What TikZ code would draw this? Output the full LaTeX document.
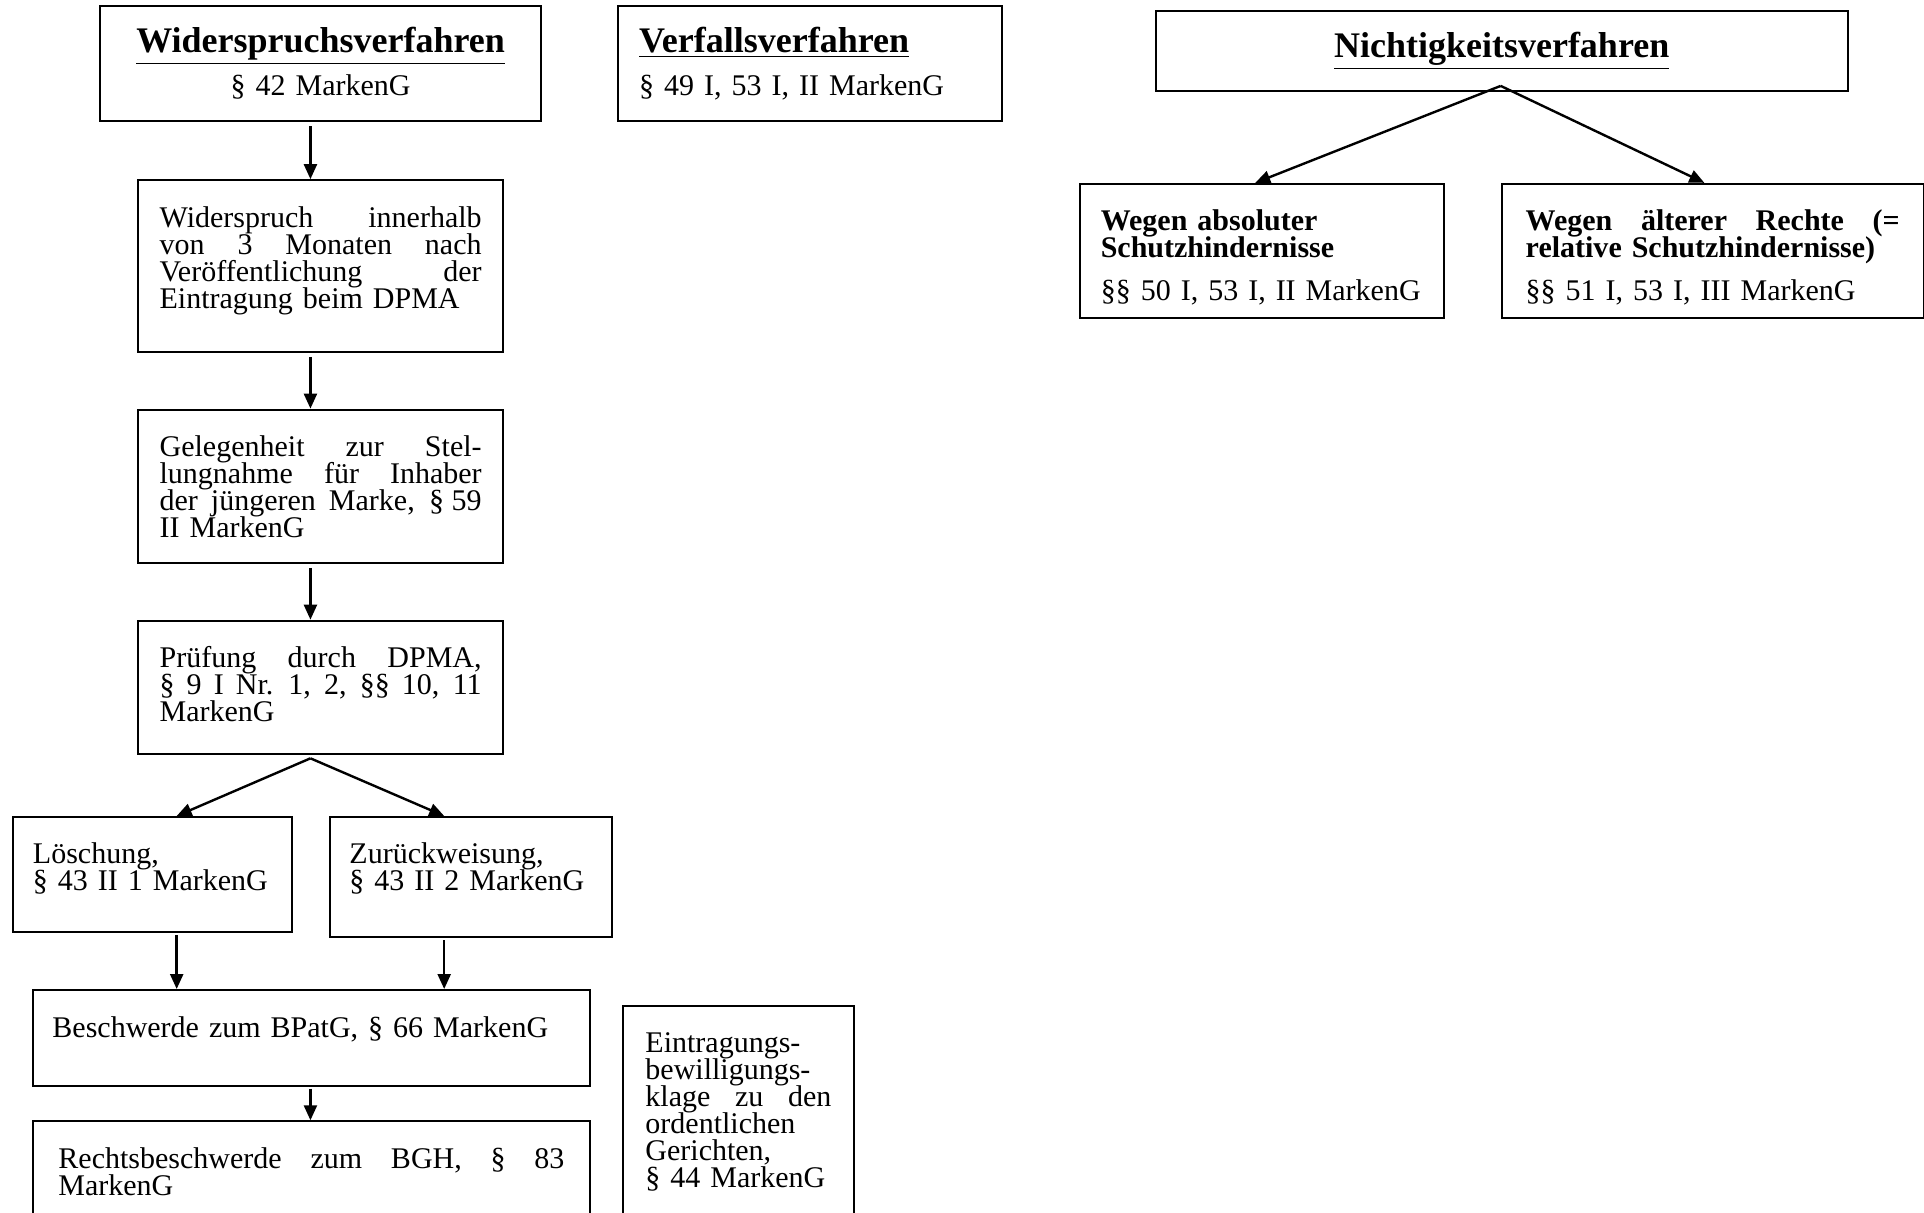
\documentclass[tikz,border=0pt]{standalone}
\usepackage{fontspec}
\setmainfont{Liberation Serif}
\usetikzlibrary{arrows.meta}

\newcommand{\boxfont}{\fontsize{15}{13.5}\selectfont\lineskiplimit=-20pt\parindent=0pt\relax}
\newcommand{\headfont}{\fontsize{18}{20}\selectfont\bfseries}
\newcommand{\bodybf}{\fontsize{15}{13.5}\selectfont\bfseries}
\newcommand{\jline}[1]{\leavevmode\hbox to\hsize{\spaceskip=0.25em plus 1fil\relax#1}}

\tikzset{boxsize/.style 2 args={minimum width=#1*0.6135pt,text height=23.5pt,text depth=#2*0.6135pt-23.5pt}}

\begin{document}
\begin{tikzpicture}[x=0.6135pt,y=-0.6135pt]
\useasboundingbox (0,0) rectangle (1568,988);
\clip (0,0) rectangle (1568,988);

\begin{scope}[every node/.style={draw,line width=1pt,anchor=north west,inner sep=0pt,font=\boxfont}]
    % Widerspruch
    \node[boxsize={359}{94},text width=199pt,align=center] (wv) at (81,4) {{\headfont\underline{Widerspruchsverfahren}}\\[8pt] § 42 MarkenG};
    \node[boxsize={297}{140},text width=161pt,align=left] (wi) at (112,146) {\jline{Widerspruch innerhalb}\\ \jline{von 3 Monaten nach}\\ \jline{Veröffentlichung der}\\ Eintragung beim DPMA};
    \node[boxsize={297}{125},text width=161pt,align=left] (gs) at (112,333) {\jline{Gelegenheit zur Stel-}\\ \jline{lungnahme für Inhaber}\\ \jline{der jüngeren Marke, \mbox{§ 59}}\\ II MarkenG};
    \node[boxsize={297}{109},text width=161pt,align=left] (pd) at (112,505) {\jline{Prüfung durch DPMA,}\\ \jline{§ 9 I Nr. 1, 2, §§ 10, 11}\\ MarkenG};
    \node[boxsize={227}{94},text width=119.6pt,align=left] (lo) at (10,665) {Löschung,\\ § 43 II 1 MarkenG};
    \node[boxsize={230}{98},text width=121.5pt,align=left] (zw) at (268,665) {Zurückweisung,\\ § 43 II 2 MarkenG};
    \node[boxsize={454}{78},text width=259pt,align=left] (bs) at (26,806) {Beschwerde zum BPatG, § 66 MarkenG};
    \node[boxsize={454}{85},text width=253pt,align=left] (rb) at (26,913) {\jline{Rechtsbeschwerde zum BGH, § 83}\\ MarkenG};
    \node[boxsize={188}{181},text width=93pt,align=left] (ek) at (507,819) {Eintragungs-\\ bewilligungs-\\ \jline{klage zu den}\\ ordentlichen\\ Gerichten,\\ § 44 MarkenG};
    % Verfall
    \node[boxsize={313}{94},text width=171pt,align=left] (vf) at (503,4) {{\headfont\underline{Verfallsverfahren}}\\[8pt] § 49 I, 53 I, II MarkenG};
    % Nichtigkeit
    \node[boxsize={564}{65},text width=325pt,align=center] (nv) at (941,8) {\headfont\underline{Nichtigkeitsverfahren}};
    \node[boxsize={297}{109},text width=161pt,align=left] (wa) at (879,149) {{\bodybf Wegen absoluter}\\ {\bodybf Schutzhindernisse}\\[8pt] §§ 50 I, 53 I, II MarkenG};
    \node[boxsize={344}{109},text width=187pt,align=left] (wr) at (1223,149) {{\bodybf\jline{Wegen älterer Rechte (=}}\\ {\bodybf relative Schutzhindernisse)}\\[8pt] §§ 51 I, 53 I, III MarkenG};
\end{scope}

\coordinate (spine) at (253,0);
\coordinate (lcol) at (144,0);
\coordinate (rcol) at (362,0);
\coordinate (pfork) at (253,618);
\coordinate (nfork) at (1223,70);
\coordinate (nleft) at (1023,0);
\coordinate (nright) at (1389,0);

\begin{scope}[every edge/.style={draw,line width=1.2pt,-{Triangle[length=7.5pt,width=6.5pt]}}]
    \path (wv.south -| spine) edge[shorten <=2pt] (wi.north -| spine);
    \path (wi.south -| spine) edge[shorten <=2pt] (gs.north -| spine);
    \path (gs.south -| spine) edge[shorten <=2pt] (pd.north -| spine);
    \path (pfork) edge (lo.north -| lcol);
    \path (pfork) edge (zw.north -| rcol);
    \path (lo.south -| lcol) edge[shorten <=1pt] (bs.north -| lcol);
    \path (zw.south -| rcol) edge[shorten <=1pt] (bs.north -| rcol);
    \path (bs.south -| spine) edge[shorten <=1pt] (rb.north -| spine);
    \path (nfork) edge (wa.north -| nleft);
    \path (nfork) edge (wr.north -| nright);
\end{scope}
\end{tikzpicture}
\end{document}
